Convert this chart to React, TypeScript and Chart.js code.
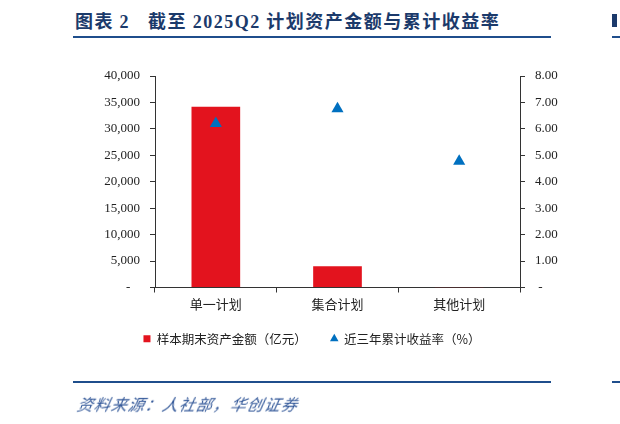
import { useEffect, useRef } from 'react';
import Chart from 'chart.js/auto';

const categories = ['单一计划', '集合计划', '其他计划'];
const assetValues = [34200, 4000, 60];
const returnRates = [6.2, 6.76, 4.78];
const leftTicks = [0, 5000, 10000, 15000, 20000, 25000, 30000, 35000, 40000];
const rightTicks = [0, 1, 2, 3, 4, 5, 6, 7, 8];

const SERIF = '"Liberation Serif", "Times New Roman", "Noto Sans CJK SC", serif';
const CJK = '"Noto Sans CJK SC", "Liberation Serif", serif';

export default function App() {
  const canvasRef = useRef<HTMLCanvasElement>(null);

  useEffect(() => {
    document.body.style.margin = '0';
    if (!canvasRef.current) return;
    const chart = new Chart(canvasRef.current, {
      type: 'bar',
      data: {
        labels: categories,
        datasets: [
          {
            type: 'bar',
            label: '样本期末资产金额（亿元）\u3000 ',
            data: assetValues,
            backgroundColor: '#E3131E',
            borderWidth: 0,
            pointStyle: 'rect',
            barPercentage: 0.8,
            categoryPercentage: 0.5,
            yAxisID: 'y',
            order: 2,
          },
          {
            type: 'scatter',
            label: '近三年累计收益率（%）',
            data: returnRates,
            backgroundColor: '#0070C0',
            borderColor: '#0070C0',
            pointStyle: 'triangle',
            pointRadius: 7,
            borderWidth: 0,
            yAxisID: 'y1',
            order: 1,
          },
        ],
      },
      options: {
        animation: false,
        responsive: false,
        layout: { padding: { left: 44, right: 40, top: 76, bottom: 69 } },
        plugins: {
          tooltip: { enabled: false },
          legend: {
            position: 'bottom',
            labels: {
              usePointStyle: true,
              boxWidth: 7,
              boxHeight: 7,
              padding: 15,
              color: '#222',
              font: { family: CJK, size: 12.5 },
              sort: (a: any, b: any) => a.datasetIndex - b.datasetIndex,
            },
          },
        },
        scales: {
          x: {
            type: 'category',
            offset: true,
            border: { color: '#333', width: 1 },
            grid: { display: true, drawOnChartArea: false, drawTicks: true, tickLength: 5, color: '#333', offset: true },
            ticks: { color: '#222', padding: 4, font: { family: CJK, size: 13 } },
            afterFit: (s: any) => { s.height = 30; },
          },
          y: {
            position: 'left',
            min: 0,
            max: 40000,
            afterBuildTicks: (s: any) => { s.ticks = leftTicks.map((v) => ({ value: v })); },
            border: { color: '#333', width: 1 },
            grid: { drawOnChartArea: false, tickLength: 5, color: '#333' },
            ticks: {
              color: '#222',
              padding: 10,
              font: { family: SERIF, size: 13 },
              callback: (v: any) => (Number(v) === 0 ? '-   ' : Number(v).toLocaleString('en-US')),
            },
            afterFit: (s: any) => { s.width = 111; },
          },
          y1: {
            position: 'right',
            min: 0,
            max: 8,
            afterBuildTicks: (s: any) => { s.ticks = rightTicks.map((v) => ({ value: v })); },
            border: { color: '#333', width: 1 },
            grid: { drawOnChartArea: false, tickLength: 5, color: '#333' },
            ticks: {
              color: '#222',
              padding: 10,
              font: { family: SERIF, size: 13 },
              callback: (v: any) => (Number(v) === 0 ? ' -' : Number(v).toFixed(2)),
            },
            afterFit: (s: any) => { s.width = 60; },
          },
        },
      },
    });
    return () => chart.destroy();
  }, []);

  return (
    <div style={{ position: 'relative', width: 620, height: 424, background: '#fff', overflow: 'hidden' }}>
      <div
        style={{
          position: 'absolute',
          left: 75,
          top: 7,
          fontFamily: CJK,
          fontWeight: 700,
          fontSize: 18,
          color: '#1B3A6B',
          whiteSpace: 'nowrap',
          letterSpacing: 1.5,
        }}
      >
        图表 <span style={{ fontFamily: SERIF }}>2</span>
        <span style={{ marginLeft: 18 }}>截至 <span style={{ fontFamily: SERIF }}>2025Q2</span> 计划资产金额与累计收益率</span>
      </div>
      <div style={{ position: 'absolute', left: 73, top: 36, width: 478, height: 2, background: '#1F4E8C' }} />
      <div style={{ position: 'absolute', left: 612, top: 36, width: 8, height: 2, background: '#1F4E8C' }} />
      <div style={{ position: 'absolute', left: 612, top: 14, width: 5, height: 13, background: '#1B3A6B' }} />
      <canvas ref={canvasRef} width={620} height={424} style={{ position: 'absolute', left: 0, top: 0 }} />
      <div style={{ position: 'absolute', left: 73, top: 381, width: 478, height: 2, background: '#1F4E8C' }} />
      <div style={{ position: 'absolute', left: 612, top: 381, width: 8, height: 2, background: '#1F4E8C' }} />
      <div
        style={{
          position: 'absolute',
          left: 75,
          top: 392,
          fontFamily: CJK,
          fontStyle: 'italic',
          fontSize: 16,
          color: '#2F5597',
          whiteSpace: 'nowrap',
          letterSpacing: 1,
          transform: 'skewX(-12deg)',
          transformOrigin: 'left bottom',
        }}
      >
        资料来源：人社部，华创证券
      </div>
    </div>
  );
}
